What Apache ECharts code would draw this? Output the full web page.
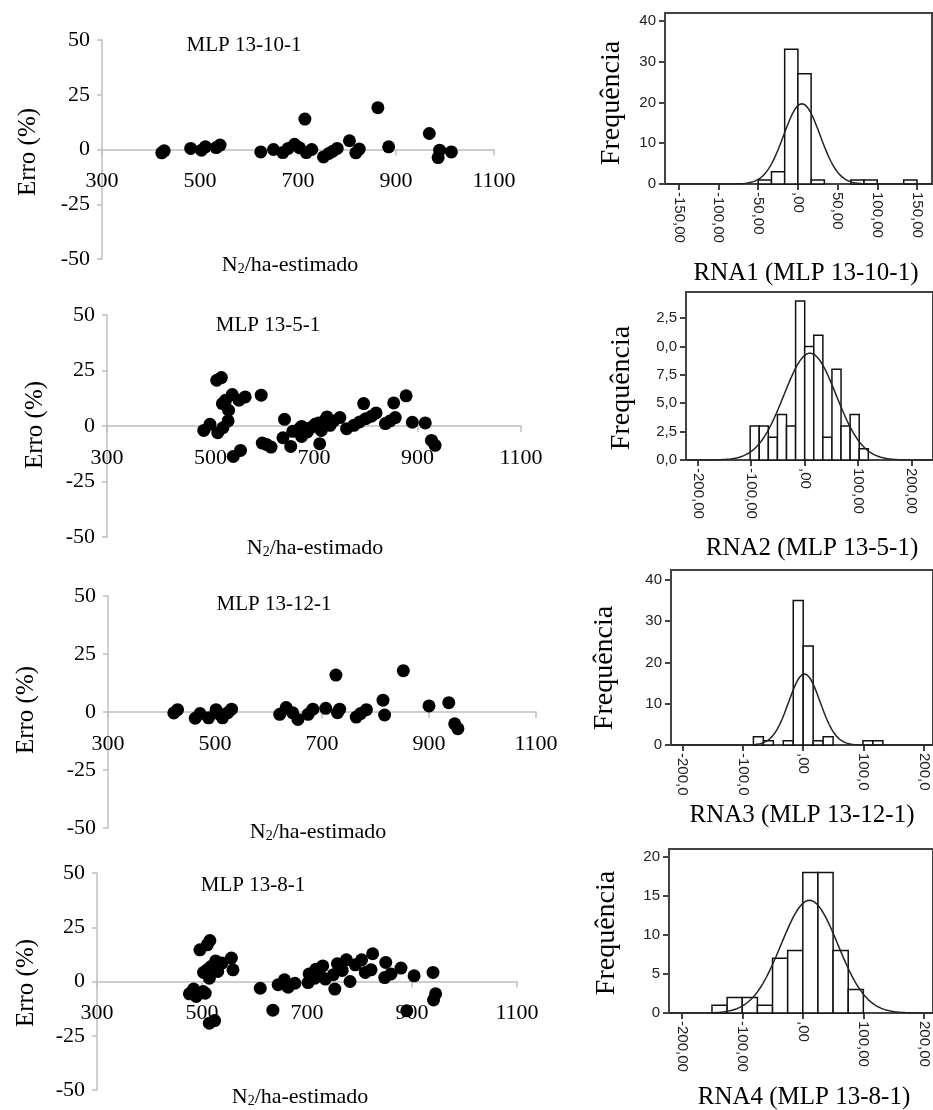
<!DOCTYPE html>
<html>
<head>
<meta charset="utf-8">
<script src="https://cdn.jsdelivr.net/npm/echarts@6/dist/echarts.min.js"></script>
<style>
  html, body { margin: 0; padding: 0; background: #fff; }
  #chart { width: 933px; height: 1110px; }
</style>
</head>
<body>
<div id="chart"></div>
<script>
// ---- Residual error (%) versus estimated N2/ha, one list per network ----
const errMLP13_10_1 = [[422,-1.5],[427,-0.6],[481,0.5],[503,-0.3],[511,1.2],[533,0.9],[541,2.0],[624,-1.1],
  [650,0],[669,-1.4],[680,0.5],[693,2.4],[703,0.8],[714,13.9],[717,-1.4],[728,0],[752,-3.4],[763,-1.8],
  [771,-0.8],[780,0.5],[805,4.0],[818,-1.5],[825,0.2],[863,19.1],[885,1.2],[968,7.3],[989,-0.3],[986,-3.7],[1013,-1.1]];

const errMLP13_5_1 = [[487,-2.0],[499,0.8],[514,-3.0],[512,20.6],[521,21.8],[523,10.1],[529,11.6],[535,7.1],
  [534,2.3],[524,-0.8],[542,14.2],[544,-13.7],[555,11.6],[558,-11.0],[567,13.1],[598,13.9],[600,-7.7],
  [608,-8.3],[617,-9.5],[640,-5.3],[643,3.0],[655,-9.2],[659,-2.4],[672,-1.2],[676,-0.2],[676,-4.7],
  [687,-2.7],[693,-0.8],[702,0.8],[709,1.4],[711,-8.0],[714,-2.0],[722,2.9],[725,4.1],[731,0.3],[738,2.3],
  [750,3.8],[763,-1.2],[777,0.3],[788,1.8],[796,10.1],[800,3.3],[811,4.4],[820,5.9],[838,1.1],[847,2.3],
  [854,10.4],[857,3.8],[878,13.6],[890,1.7],[915,1.4],[927,-6.5],[934,-8.7]];

const errMLP13_12_1 = [[423,-0.4],[430,1.0],[463,-2.7],[472,-0.7],[488,-2.5],[502,1.0],[507,-0.7],[514,-2.5],
  [524,-0.3],[531,1.2],[621,-1.0],[633,1.9],[645,-0.3],[655,-3.2],[674,-1.0],[683,1.2],[707,1.6],[726,15.9],
  [729,-0.3],[733,1.2],[764,-2.2],[772,-0.7],[783,1.0],[814,5.1],[817,-1.3],[852,17.8],[900,2.6],[937,4.0],
  [948,-5.1],[954,-7.2]];

const errMLP13_8_1 = [[476,-5.7],[484,-3.5],[489,-6.9],[496,14.6],[502,-4.6],[503,4.2],[506,-5.4],[510,16.9],
  [515,18.9],[510,5.4],[517,6.9],[514,1.5],[514,-19.2],[524,-18.0],[526,9.5],[530,4.6],[538,8.5],[556,10.8],
  [559,5.4],[611,-3.1],[635,-13.2],[645,-1.5],[657,0.8],[664,-2.6],[677,-0.8],[702,-0.5],[704,3.5],[715,1.5],
  [717,5.7],[723,4.6],[730,7.2],[735,1.1],[750,3.1],[753,-3.5],[758,8.2],[767,5.1],[775,10.0],[782,0],
  [792,7.7],[804,10.0],[811,4.2],[822,5.4],[825,12.8],[850,8.8],[848,1.8],[860,3.5],[879,6.2],[890,-13.5],
  [904,2.6],[940,4.2],[941,-8.5],[945,-5.7]];

const scatterTitles = ['MLP 13-10-1', 'MLP 13-5-1', 'MLP 13-12-1', 'MLP 13-8-1'];
const errTicks = [-50, -25, 0, 25, 50];
const n2Ticks = [300, 500, 700, 900, 1100];

// ---- Histograms of the residuals: bin edges and frequencies ----
const rna1Edges = [-50, -33.33, -16.67, 0, 16.67, 33.33, 50, 66.67, 83.33, 100, 116.67, 133.33, 150];
const rna1Counts = [1, 3, 33, 27, 1, 0, 0, 1, 1, 0, 0, 1];
const rna2Edges = [-102, -85, -68, -51, -34, -17, 0, 17, 34, 51, 68, 85, 102, 119];
const rna2Counts = [3, 3, 2, 4, 3, 14, 10, 11, 2, 8, 3, 4, 1];
const rna3Edges = [-82.5, -66, -49.5, -33, -16.5, 0, 16.5, 33, 49.5, 66, 82.5, 99, 115.5, 132];
const rna3Counts = [2, 1, 0, 1, 35, 24, 1, 2, 0, 0, 0, 1, 1];
const rna4Edges = [-150, -125, -100, -75, -50, -25, 0, 25, 50, 75, 100];
const rna4Counts = [1, 2, 2, 1, 7, 8, 18, 18, 8, 3];

// fitted normal curve: [mean, standard deviation] of each residual sample
const rna1Fit = [5, 23];
const rna2Fit = [10, 49];
const rna3Fit = [2, 26];
const rna4Fit = [11, 47];

const histCaptions = ['RNA1 (MLP 13-10-1)', 'RNA2 (MLP 13-5-1)', 'RNA3 (MLP 13-12-1)', 'RNA4 (MLP 13-8-1)'];

const rna1XTicks = [-150, -100, -50, 0, 50, 100, 150];
const rna1XLabels = ['-150,00', '-100,00', '-50,00', ',00', '50,00', '100,00', '150,00'];
const rna2XTicks = [-200, -100, 0, 100, 200];
const rna2XLabels = ['-200,00', '-100,00', ',00', '100,00', '200,00'];
const rna3XTicks = [-200, -100, 0, 100, 200];
const rna3XLabels = ['-200,0', '-100,0', ',00', '100,0', '200,0'];
const rna4XTicks = [-200, -100, 0, 100, 200];
const rna4XLabels = ['-200,00', '-100,00', ',00', '100,00', '200,00'];

const rna1YTicks = [0, 10, 20, 30, 40];
const rna1YLabels = ['0', '10', '20', '30', '40'];
const rna2YTicks = [0, 2.5, 5, 7.5, 10, 12.5];
const rna2YLabels = ['0,0', '2,5', '5,0', '7,5', '0,0', '2,5'];
const rna3YTicks = [0, 10, 20, 30, 40];
const rna3YLabels = ['0', '10', '20', '30', '40'];
const rna4YTicks = [0, 5, 10, 15, 20];
const rna4YLabels = ['0', '5', '10', '15', '20'];

// ---- layout ----
const SERIF = 'Liberation Serif, Times New Roman, serif';
const SANS = 'Liberation Sans, Arial, sans-serif';

const scatterGrids = [
  { left: 102, top: 40,  width: 392, height: 219 },
  { left: 107, top: 315, width: 414, height: 222 },
  { left: 108, top: 596, width: 428, height: 232 },
  { left: 97,  top: 873, width: 420, height: 217 }
];
const scatterText = [
  { title: [244, 45],  yName: [28, 152], xName: [290, 265] },
  { title: [268, 325], yName: [35, 425], xName: [315, 548] },
  { title: [274, 604], yName: [26, 710], xName: [318, 832] },
  { title: [253, 885], yName: [26, 983], xName: [300, 1097] }
];

const hists = [
  { edges: rna1Edges, counts: rna1Counts, fit: rna1Fit, xr: [-167.5, 169], yMax: 41.9,
    xt: rna1XTicks, xl: rna1XLabels, yt: rna1YTicks, yl: rna1YLabels,
    grid: { left: 665, top: 13, width: 267, height: 171 }, yName: [612, 103], cap: [806, 273] },
  { edges: rna2Edges, counts: rna2Counts, fit: rna2Fit, xr: [-222, 240], yMax: 14.8,
    xt: rna2XTicks, xl: rna2XLabels, yt: rna2YTicks, yl: rna2YLabels,
    grid: { left: 686, top: 292, width: 257, height: 168 }, yName: [622, 388], cap: [812, 548] },
  { edges: rna3Edges, counts: rna3Counts, fit: rna3Fit, xr: [-219, 215], yMax: 42.4,
    xt: rna3XTicks, xl: rna3XLabels, yt: rna3YTicks, yl: rna3YLabels,
    grid: { left: 671, top: 570, width: 270, height: 175 }, yName: [605, 668], cap: [802, 815] },
  { edges: rna4Edges, counts: rna4Counts, fit: rna4Fit, xr: [-221, 215], yMax: 21,
    xt: rna4XTicks, xl: rna4XLabels, yt: rna4YTicks, yl: rna4YLabels,
    grid: { left: 669, top: 849, width: 272, height: 164 }, yName: [607, 933], cap: [804, 1097] }
];

const scatterData = [errMLP13_10_1, errMLP13_5_1, errMLP13_12_1, errMLP13_8_1];

const grid = [], xAxis = [], yAxis = [], series = [], graphic = [];
const AXIS_GRAY = '#bfbfbf';

scatterData.forEach((pts, i) => {
  const g = scatterGrids[i];
  grid.push(Object.assign({ containLabel: false }, g));
  // the N2/ha axis sits on the zero-error line, halfway up the symmetric error range
  xAxis.push({
    type: 'value', gridIndex: i, min: n2Ticks[0], max: n2Ticks[n2Ticks.length - 1], interval: 200,
    position: 'bottom', offset: -g.height / 2,
    axisLine: { show: true, onZero: false, lineStyle: { color: AXIS_GRAY, width: 1.5 } },
    axisTick: { show: true, inside: false, length: 6, lineStyle: { color: AXIS_GRAY, width: 1.5 } },
    axisLabel: { color: '#000', fontFamily: SERIF, fontSize: 22, margin: 21, formatter: (v) => String(v) },
    splitLine: { show: false }
  });
  yAxis.push({
    type: 'value', gridIndex: i, min: errTicks[0], max: errTicks[errTicks.length - 1], interval: 25,
    axisLine: { show: true, onZero: false, lineStyle: { color: AXIS_GRAY, width: 1.5 } },
    axisTick: { show: true, inside: false, length: 5, lineStyle: { color: AXIS_GRAY, width: 1.5 } },
    axisLabel: { color: '#000', fontFamily: SERIF, fontSize: 22, margin: 12, formatter: (v) => String(v) },
    splitLine: { show: false }
  });
  series.push({
    type: 'scatter', xAxisIndex: i, yAxisIndex: i, data: pts, symbol: 'circle', symbolSize: 13,
    itemStyle: { color: '#000', opacity: 1 }, silent: true, z: 3
  });
  const t = scatterText[i];
  graphic.push({ type: 'text', x: t.title[0], y: t.title[1],
    style: { text: scatterTitles[i], font: '21px ' + SERIF, fill: '#000', align: 'center', verticalAlign: 'middle' } });
  graphic.push({ type: 'text', x: t.yName[0], y: t.yName[1], rotation: Math.PI / 2,
    style: { text: 'Erro (%)', font: '25px ' + SERIF, fill: '#000', align: 'center', verticalAlign: 'middle' } });
  graphic.push({ type: 'text', x: t.xName[0], y: t.xName[1],
    style: { text: '{a|N}{b|2}{a|/ha-estimado}', align: 'center', verticalAlign: 'middle',
      rich: { a: { fontFamily: SERIF, fontSize: 22, fill: '#000', lineHeight: 26 },
              b: { fontFamily: SERIF, fontSize: 14, fill: '#000', lineHeight: 26, padding: [9, 0, 0, 0] } } } });
});

hists.forEach((h, k) => {
  const gi = 4 + k;
  grid.push(Object.assign({ containLabel: false, show: true, borderColor: '#444', borderWidth: 2,
    backgroundColor: 'transparent' }, h.grid));
  const lab = (ticks, labels) => (v) => {
    const j = ticks.findIndex(t => Math.abs(t - v) < 1e-6);
    return j >= 0 ? labels[j] : '';
  };
  xAxis.push({
    type: 'value', gridIndex: gi, min: h.xr[0], max: h.xr[1],
    axisLine: { show: true, onZero: false, lineStyle: { color: '#444', width: 2 } },
    axisTick: { show: true, inside: false, length: 6, customValues: h.xt, lineStyle: { color: '#444', width: 2 } },
    axisLabel: { customValues: h.xt, formatter: lab(h.xt, h.xl), rotate: -90, color: '#222',
      fontFamily: SANS, fontSize: 15, margin: 8 },
    splitLine: { show: false }
  });
  yAxis.push({
    type: 'value', gridIndex: gi, min: 0, max: h.yMax,
    axisLine: { show: true, onZero: false, lineStyle: { color: '#444', width: 2 } },
    axisTick: { show: true, inside: false, length: 6, customValues: h.yt, lineStyle: { color: '#444', width: 2 } },
    axisLabel: { customValues: h.yt, formatter: lab(h.yt, h.yl), color: '#222',
      fontFamily: SANS, fontSize: 15, margin: 9 },
    splitLine: { show: false }
  });
  const bins = [];
  h.counts.forEach((c, j) => { if (c > 0) bins.push([h.edges[j], h.edges[j + 1], c]); });
  series.push({
    type: 'custom', xAxisIndex: gi, yAxisIndex: gi, data: bins, silent: true, z: 2,
    encode: { x: [0, 1], y: 2 },
    renderItem: (params, api) => {
      const p0 = api.coord([api.value(0), api.value(2)]);
      const p1 = api.coord([api.value(1), 0]);
      return { type: 'rect', shape: { x: p0[0], y: p0[1], width: p1[0] - p0[0], height: p1[1] - p0[1] },
        style: { fill: '#fff', stroke: '#111', lineWidth: 1.5 } };
    }
  });
  // expected frequency under the fitted normal: n * binWidth * pdf(x)
  const n = h.counts.reduce((a, b) => a + b, 0);
  const w = h.edges[1] - h.edges[0];
  const [mu, sd] = h.fit;
  const curve = [];
  for (let x = Math.ceil(h.xr[0]); x <= h.xr[1]; x += 1) {
    const z = (x - mu) / sd;
    curve.push([x, n * w * Math.exp(-0.5 * z * z) / (sd * Math.sqrt(2 * Math.PI))]);
  }
  series.push({
    type: 'line', xAxisIndex: gi, yAxisIndex: gi, data: curve, showSymbol: false, silent: true, z: 4,
    lineStyle: { color: '#222', width: 1.5 }
  });
  graphic.push({ type: 'text', x: h.yName[0], y: h.yName[1], rotation: Math.PI / 2,
    style: { text: 'Frequência', font: '28px ' + SERIF, fill: '#000', align: 'center', verticalAlign: 'middle' } });
  graphic.push({ type: 'text', x: h.cap[0], y: h.cap[1],
    style: { text: histCaptions[k], font: '25px ' + SERIF, fill: '#000', align: 'center', verticalAlign: 'middle' } });
});

const chart = echarts.init(document.getElementById('chart'), null, { renderer: 'canvas' });
chart.setOption({
  backgroundColor: '#fff',
  animation: false,
  grid, xAxis, yAxis, series, graphic
});
</script>
</body>
</html>
